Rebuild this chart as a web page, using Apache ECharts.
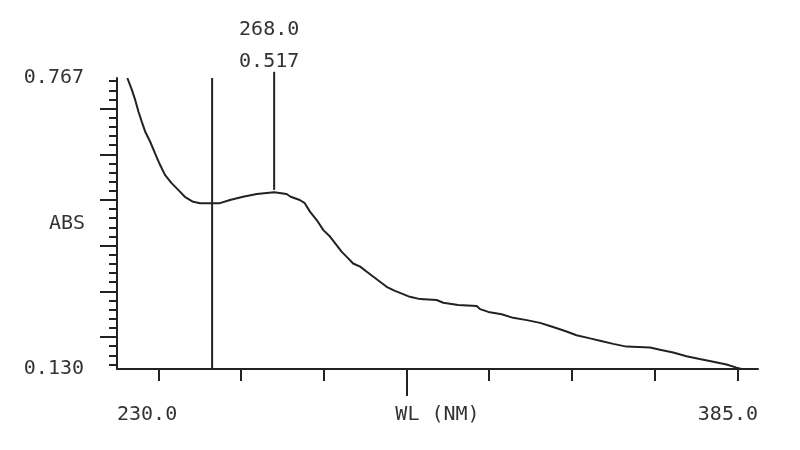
<!DOCTYPE html>
<html>
<head>
<meta charset="utf-8">
<script src="https://cdn.jsdelivr.net/npm/echarts@6/dist/echarts.min.js"></script>
<style>html,body{margin:0;padding:0;background:#fff}#c{width:800px;height:450px}</style>
</head>
<body>
<div id="c"></div>
<script>
// Data
const wavelengths = [232.5,233.6,234.4,235.2,236.0,236.8,238.0,239.2,240.4,241.6,243.2,244.8,246.4,248.4,250.1,252.5,254.9,257.3,260.5,263.8,268.0,271.0,272.0,274.2,275.4,276.7,278.3,279.9,281.5,283.1,284.3,285.5,287.1,288.8,290.4,292.0,293.6,295.2,297.2,299.2,300.8,303.3,307.3,308.9,312.5,317.0,317.8,319.8,323.0,325.8,329.1,332.3,334.7,337.1,338.7,341.1,344.4,346.8,350.0,353.2,358.9,361.3,364.5,367.7,370.9,374.2,377.4,379.8,381.0];
const absorbance = [0.767,0.741,0.719,0.693,0.671,0.650,0.628,0.602,0.577,0.555,0.537,0.522,0.507,0.496,0.493,0.493,0.493,0.500,0.507,0.513,0.517,0.513,0.507,0.500,0.493,0.474,0.456,0.434,0.420,0.401,0.387,0.376,0.361,0.354,0.343,0.332,0.321,0.310,0.301,0.294,0.288,0.283,0.281,0.275,0.270,0.268,0.261,0.255,0.250,0.242,0.237,0.231,0.224,0.217,0.212,0.204,0.197,0.192,0.185,0.179,0.177,0.172,0.166,0.158,0.152,0.146,0.140,0.133,0.130];

const xMin = 230.0, xMax = 385.0;
const yMin = 0.130, yMax = 0.767;
const xTicks = [240,260,280,300,320,340,360,380];
const xLongTick = [300];
const xLabelValues = [230.0, 385.0];
const yMajorTicks = [0.2,0.3,0.4,0.5,0.6,0.7];
const yMinorTicks = [0.14,0.16,0.18,0.22,0.24,0.26,0.28,0.32,0.34,0.36,0.38,0.42,0.44,0.46,0.48,0.52,0.54,0.56,0.58,0.62,0.64,0.66,0.68,0.72,0.74,0.76];
const yLabelValues = [0.130, 0.767];
const cursorNm = 253.0;
const peakNm = 268.0, peakAbs = 0.517;

const ink = '#222';
const font = 'DejaVu Sans Mono';

const chart = echarts.init(document.getElementById('c'), null, {renderer: 'canvas'});

const curve = wavelengths.map((w, i) => [w, absorbance[i]]);

chart.setOption({
  animation: false,
  backgroundColor: '#ffffff',
  grid: {left: 117, right: 42, top: 78, bottom: 81, containLabel: false, outerBoundsMode: 'none'},
  xAxis: [
    {
      type: 'value', min: xMin, max: xMax, position: 'bottom',
      splitLine: {show: false},
      axisLine: {show: true, lineStyle: {color: ink, width: 2}},
      axisTick: {show: true, customValues: xTicks, length: 12, lineStyle: {color: ink, width: 2}},
      axisLabel: {
        show: true, customValues: xLabelValues, margin: 36,
        alignMinLabel: 'left', alignMaxLabel: 'right',
        formatter: v => v.toFixed(1),
        color: '#333', fontFamily: font, fontSize: 20
      },
      name: 'WL (NM)', nameLocation: 'middle', nameGap: 36, nameMoveOverlap: false,
      nameTextStyle: {color: '#333', fontFamily: font, fontSize: 20, verticalAlign: 'top'}
    },
    {
      type: 'value', min: xMin, max: xMax, position: 'bottom', offset: 0,
      splitLine: {show: false},
      axisLine: {show: false},
      axisTick: {show: true, customValues: xLongTick, length: 27, lineStyle: {color: ink, width: 2}},
      axisLabel: {show: false}
    }
  ],
  yAxis: [
    {
      type: 'value', min: yMin, max: yMax, position: 'left',
      splitLine: {show: false},
      axisLine: {show: true, lineStyle: {color: ink, width: 2}},
      axisTick: {show: true, customValues: yMajorTicks, length: 17, lineStyle: {color: ink, width: 2}},
      axisLabel: {
        show: true, customValues: yLabelValues, margin: 33,
        formatter: v => v.toFixed(3),
        color: '#333', fontFamily: font, fontSize: 20
      },
      name: 'ABS', nameLocation: 'middle', nameGap: 32, nameRotate: 0, nameMoveOverlap: false,
      nameTextStyle: {color: '#333', fontFamily: font, fontSize: 20, align: 'right', verticalAlign: 'middle'}
    },
    {
      type: 'value', min: yMin, max: yMax, position: 'left', offset: 0,
      splitLine: {show: false},
      axisLine: {show: false},
      axisTick: {show: true, customValues: yMinorTicks, length: 8, lineStyle: {color: ink, width: 2}},
      axisLabel: {show: false}
    }
  ],
  series: [
    {
      type: 'line', data: curve, showSymbol: false, symbol: 'none',
      lineStyle: {color: ink, width: 2}, clip: true, z: 3
    },
    {
      type: 'line', data: [[cursorNm, yMin], [cursorNm, yMax]], showSymbol: false, symbol: 'none',
      lineStyle: {color: ink, width: 2}, z: 2
    },
    {
      type: 'line', clip: false, symbol: 'none', showSymbol: false,
      data: [[peakNm, peakAbs + 0.005], [peakNm, 0.780]],
      lineStyle: {color: ink, width: 2}, z: 2
    },
    {
      type: 'scatter', clip: false, symbol: 'circle', symbolSize: 1,
      itemStyle: {color: ink, opacity: 1},
      data: [[peakNm, 0.780]],
      label: {show: true, position: 'top', distance: 0, offset: [-5, 6],
              formatter: () => peakNm.toFixed(1) + '\n' + peakAbs.toFixed(3),
              color: '#333', opacity: 1, fontFamily: font, fontSize: 20, lineHeight: 32},
      z: 4
    }
  ]
});
</script>
</body>
</html>
